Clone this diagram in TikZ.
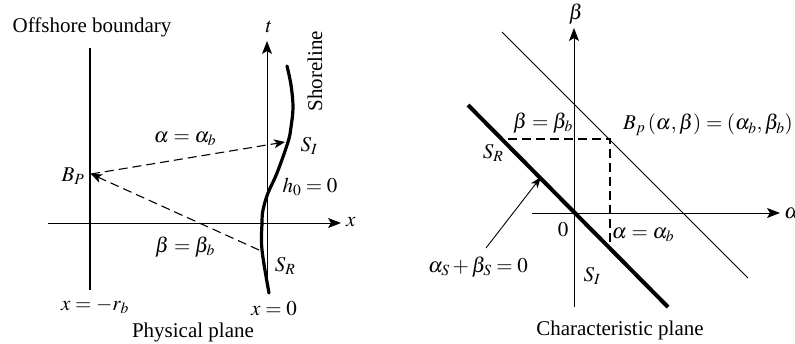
\documentclass[tikz,border=0pt]{standalone}
\usepackage{mathptmx}
\usepackage{fontspec}
\setmainfont{Liberation Serif}
\usetikzlibrary{arrows.meta}
\begin{document}
\begin{tikzpicture}[x=1pt,y=-1pt,
  txt/.style={font=\fontsize{21}{25}\selectfont, inner sep=0pt},
  axis/.style={line width=1pt, -{Stealth[length=13pt,width=10pt,inset=3pt]}},
  dasharrow/.style={line width=1.1pt, dash pattern=on 9pt off 5pt, -{Stealth[length=11pt,width=9pt,inset=3pt]}},
  dashline/.style={line width=1.1pt, dash pattern=on 9pt off 5pt},
  thickline/.style={line width=4pt},
  shore/.style={line width=3.2pt, line cap=round}]
\useasboundingbox (0,0) rectangle (795,343);

% ---------- Physical plane ----------
\node[txt] (offlbl) at (92,27) {Offshore boundary};
\coordinate (offtop) at (90,48);
\coordinate (offbot) at (90,290);
\draw[line width=1.8pt] (offtop) -- (offbot);

\coordinate (xstart) at (48,223);
\coordinate (xend) at (341,223);
\draw[axis] (xstart) -- (xend);
\node[txt, anchor=west] (xlbl) at (346,222) {$x$};

\coordinate (tstart) at (267,292);
\coordinate (tend) at (267,41);
\draw[axis] (tstart) -- (tend);
\node[txt] (tlbl) at (269,27) {$t$};

\draw[shore] plot[smooth, tension=0.6] coordinates {(287,66) (291,85) (293,107) (291,127) (288,142) (277,173) (268,193) (263,210) (262,223) (262,250) (269,293)};
\node[txt, rotate=90] (shorelbl) at (315,71) {Shoreline};

\coordinate (BP) at (91,174);
\coordinate (SIpt) at (285,142);
\coordinate (SRpt) at (259,250);
\draw[dasharrow] (BP) -- (SIpt);
\draw[dasharrow] (SRpt) -- (BP);

\node[txt] (alab) at (185,139) {$\alpha=\alpha_b$};
\node[txt] (blab) at (185,247) {$\beta=\beta_b$};
\node[txt] (SIlab) at (309,146) {$S_I$};
\node[txt] (BPlab) at (73,176) {$B_P$};
\node[txt] (h0lab) at (310,187) {$h_0=0$};
\node[txt] (SRlab) at (285,266) {$S_R$};
\node[txt] (xrb) at (95,306) {$x=-r_b$};
\node[txt] (x0) at (274,309) {$x=0$};
\node[txt] (phys) at (193,332) {Physical plane};

% ---------- Characteristic plane ----------
\coordinate (O) at (574,213);
\coordinate (bstart) at (574,307);
\coordinate (bend) at (574,28);
\draw[axis] (bstart) -- (bend);
\node[txt] (betalbl) at (576,14) {$\beta$};

\coordinate (astart) at (532,213);
\coordinate (aend) at (780,213);
\draw[axis] (astart) -- (aend);
\node[txt, anchor=west] (alphalbl) at (784,213) {$\alpha$};

\coordinate (thA) at (468,105);
\coordinate (thB) at (668,307);
\draw[thickline] (thA) -- (thB);

\coordinate (tnA) at (502,32);
\coordinate (tnB) at (748,278);
\draw[line width=0.9pt] (tnA) -- (tnB);

\coordinate (Bp) at (610,139);
\coordinate (hl) at (508,139);
\coordinate (vl) at (610,247);
\draw[dashline] (hl) -- (Bp) -- (vl);

\coordinate (arrS) at (486,248);
\coordinate (arrE) at (541,177);
\draw[line width=0.9pt, -{Stealth[length=11pt,width=8pt,inset=3pt]}] (arrS) -- (arrE);

\node[txt] (bbl) at (543,123) {$\beta=\beta_b$};
\node[txt, anchor=west] (Bplbl) at (623,125) {$B_p\,(\alpha,\beta)=(\alpha_b,\beta_b)$};
\node[txt] (SRr) at (493,153) {$S_R$};
\node[txt] (zero) at (563,230) {$0$};
\node[txt] (aal) at (643,235) {$\alpha=\alpha_b$};
\node[txt] (sumlbl) at (478,267) {$\alpha_S+\beta_S=0$};
\node[txt] (SIr) at (592,276) {$S_I$};
\node[txt] (charp) at (620,330) {Characteristic plane};
\end{tikzpicture}
\end{document}
